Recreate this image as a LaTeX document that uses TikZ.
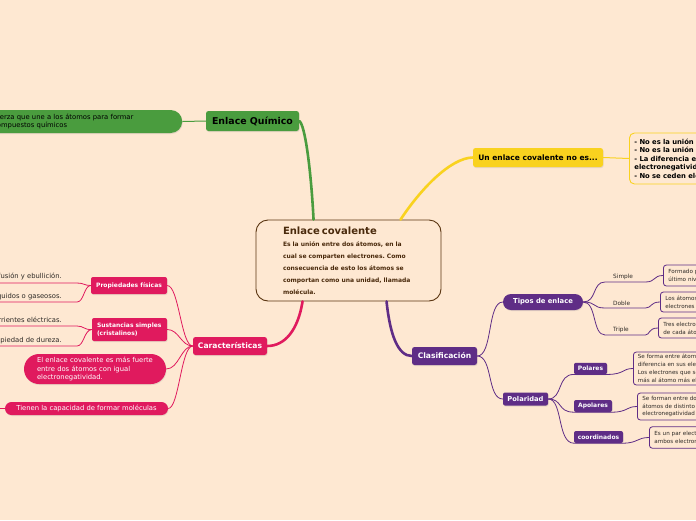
\documentclass[tikz,border=0pt]{standalone}
\usepackage{fontspec}
\setmainfont{DejaVu Sans}
\frenchspacing
\usetikzlibrary{shadows,calc}
\definecolor{bg}{HTML}{FEE8D2}
\definecolor{brn}{HTML}{5A3511}
\definecolor{brntxt}{HTML}{4A2A0C}
\definecolor{cgreen}{HTML}{4A9C3E}
\definecolor{cyellow}{HTML}{F9D21F}
\definecolor{cpink}{HTML}{E01A5E}
\definecolor{cpurple}{HTML}{5F2D86}
\definecolor{dtext}{HTML}{2E2A26}
\begin{document}
\begin{tikzpicture}[x=1pt,y=-1pt,
  shd/.style={drop shadow={opacity=0.18, shadow xshift=0.6pt, shadow yshift=-1pt}},
  main/.style={rectangle, rounded corners=2.5pt, inner sep=0, font=\bfseries\fontsize{7.6}{9}\selectfont, shd},
  sub/.style={rectangle, rounded corners=2pt, inner sep=0, text=white, font=\bfseries\fontsize{6}{7.6}\selectfont, shd},
  leaf/.style={inner sep=0, text=dtext, font=\fontsize{6.8}{8}\selectfont},
  lab/.style={text width=24pt, inner xsep=8pt, inner ysep=2.5pt, align=left, text=dtext, font=\fontsize{5.8}{7}\selectfont},
  pbox/.style={draw=cpurple, line width=0.8pt, fill=bg, rounded corners=3pt, anchor=west, text width=170pt, inner xsep=5pt, inner ysep=0pt, align=left, text=dtext, font=\fontsize{5.6}{8}\selectfont},
  trunk/.style={line width=2.6pt, line cap=round},
  twig/.style={line width=0.8pt}
]
\useasboundingbox (0,0) rectangle (696,520);
\fill[bg] (0,0) rectangle (696,520);

% central
\node[draw=brn, line width=0.9pt, rounded corners=12pt, fill=bg, minimum width=185pt, minimum height=81pt, text width=131pt, inner xsep=27pt, inner ysep=0pt, align=left, text=brntxt, font=\bfseries\fontsize{6}{12}\selectfont] (c) at (348.5,260.5)
{{\fontsize{10}{12}\selectfont Enlace covalente}\\
Es la unión entre dos átomos, en la\\
cual se comparten electrones. Como\\
consecuencia de esto los átomos se\\
comportan como una unidad, llamada\\
molécula.};

% green
\node[main, fill=cgreen, text=black, font=\bfseries\fontsize{9.4}{11}\selectfont, minimum width=93pt, minimum height=20pt] (eq) at (252.5,121) {Enlace Químico};
\node[fill=cgreen, rounded corners=11.5pt, text width=175pt, inner xsep=14pt, inner ysep=0pt, minimum height=23pt, align=left, anchor=west, text=black, font=\fontsize{6.8}{8}\selectfont, shd] (def) at (-21,121.5) {fuerza que une a los átomos para formar\\compuestos químicos};
\draw[cgreen, line width=1pt] (def.east) -- (eq.west);
\draw[cgreen, trunk] (eq.east) .. controls (305,124) and (311,170) .. ($(c.north west)+(58,0)$);

% yellow
\node[main, fill=cyellow, text=black, font=\bfseries\fontsize{7.5}{9}\selectfont, minimum width=130pt, minimum height=19pt] (ny) at (538,157.5) {Un enlace covalente no es...};
\draw[cyellow, trunk] ($(c.north west)+(145,0)$) .. controls (420,190) and (450,158) .. (ny.west);
\node[draw=cyellow, line width=0.9pt, fill=bg, rounded corners=5pt, anchor=west, text width=150pt, inner xsep=5pt, inner ysep=0pt, minimum height=51pt, align=left, text=black, font=\bfseries\fontsize{6.8}{8.5}\selectfont] (yb) at (629,158.5)
{- No es la unión de iones.\\- No es la unión de metales.\\- La diferencia entre su\\electronegatividad no es grande.\\- No se ceden electrones.};
\draw[cyellow, line width=1pt] (ny.east) -- (yb.west);

% pink
\node[main, fill=cpink, text=white, minimum width=74pt, minimum height=18pt] (car) at (230,346) {Características};
\draw[cpink, trunk] ($(c.south west)+(47,0)$) .. controls (298,330) and (285,346) .. (car.east);
\node[sub, fill=cpink, minimum width=76pt, minimum height=17pt] (pf) at (129,285.5) {Propiedades físicas};
\node[sub, fill=cpink, minimum width=75pt, minimum height=23pt, text width=65pt, inner xsep=5pt, align=left] (ss) at (129.5,329.5) {Sustancias simples\\(cristalinos)};
\node[fill=cpink, rounded corners=15pt, text=white, font=\fontsize{6.8}{8.5}\selectfont, text width=116pt, inner xsep=13pt, inner ysep=0pt, minimum height=30pt, align=left, shd] (p1) at (95,369) {El enlace covalente es más fuerte\\entre dos átomos con igual\\electronegatividad.};
\node[fill=cpink, rounded corners=6.5pt, text=white, font=\fontsize{6.8}{8}\selectfont, minimum width=163pt, minimum height=13pt, inner sep=0pt, shd] (p2) at (86.5,408.5) {Tienen la capacidad de formar moléculas};
\draw[cpink, twig] (car.west) .. controls (181,346) and (179,285.5) .. (pf.east);
\draw[cpink, twig] (car.west) .. controls (181,346) and (179,329.5) .. (ss.east);
\draw[cpink, twig] (car.west) .. controls (181,346) and (179,369) .. (p1.east);
\draw[cpink, twig] (car.west) .. controls (181,346) and (179,408.5) .. (p2.east);
\coordinate (pe) at (-5,408.5);
\draw[cpink, twig] (p2.west) -- (pe);

\node[leaf, anchor=base east] (l1) at (62,278) {Tienen bajos puntos de fusión y ebullición.};
\node[leaf, anchor=base east] (l2) at (62,298) {Pueden ser sólidos, líquidos o gaseosos.};
\node[leaf, anchor=base east] (l3) at (62,322) {No conducen las corrientes eléctricas.};
\node[leaf, anchor=base east] (l4) at (62,342.5) {Tienen la propiedad de dureza.};
\coordinate (u1) at (77,283); \coordinate (v1) at (-5,283);
\coordinate (u2) at (77,302); \coordinate (v2) at (-5,302);
\coordinate (u3) at (77,326); \coordinate (v3) at (-5,326);
\coordinate (u4) at (77,346); \coordinate (v4) at (-5,346);
\draw[cpink, twig] (pf.west) .. controls (84,285.5) and (84,283) .. (u1) -- (v1);
\draw[cpink, twig] (pf.west) .. controls (84,285.5) and (84,302) .. (u2) -- (v2);
\draw[cpink, twig] (ss.west) .. controls (84,330) and (84,326) .. (u3) -- (v3);
\draw[cpink, twig] (ss.west) .. controls (84,330) and (84,346) .. (u4) -- (v4);

% purple
\node[main, fill=cpurple, text=white, minimum width=65pt, minimum height=18pt] (cl) at (444.5,356) {Clasificación};
\draw[cpurple, trunk] ($(c.south west)+(131,0)$) .. controls (390,335) and (398,356) .. (cl.west);
\node[fill=cpurple, rounded corners=8pt, text=white, font=\bfseries\fontsize{6.8}{8}\selectfont, minimum width=80pt, minimum height=16pt, inner sep=0pt, shd] (te) at (543,302) {Tipos de enlace};
\node[sub, fill=cpurple, font=\bfseries\fontsize{6.7}{8}\selectfont, minimum width=45pt, minimum height=13pt] (po) at (525.5,399) {Polaridad};
\draw[cpurple, twig] (cl.east) .. controls (493,356) and (487,302) .. (te.west);
\draw[cpurple, twig] (cl.east) .. controls (493,356) and (487,399) .. (po.west);

\node[lab, anchor=south west] (si) at (605,282) {Simple};
\node[lab, anchor=south west] (do) at (605,308) {Doble};
\node[lab, anchor=south west] (tr) at (605,335) {Triple};
\node[pbox, minimum height=21pt] (b1) at (663,275.5) {Formado por un par de electrones\\último nivel de energía};
\node[pbox, minimum height=20pt] (b2) at (660,302) {Los átomos comparten dos pares\\electrones};
\node[pbox, minimum height=20pt] (b3) at (658,328) {Tres electrones son compartidos\\de cada átomo};
\draw[cpurple, twig] (te.east) .. controls (597,302) and (592,282) .. (si.south west) -- (si.south east) .. controls (656,282) and (653,275.5) .. (b1.west);
\draw[cpurple, twig] (te.east) .. controls (597,302) and (592,308) .. (do.south west) -- (do.south east) .. controls (652,308) and (650,302) .. (b2.west);
\draw[cpurple, twig] (te.east) .. controls (597,302) and (592,335) .. (tr.south west) -- (tr.south east) .. controls (650,335) and (648,328) .. (b3.west);

\node[sub, fill=cpurple, minimum width=33pt, minimum height=11.5pt] (pl) at (590.5,368.5) {Polares};
\node[sub, fill=cpurple, minimum width=38pt, minimum height=12pt] (ap) at (593,406) {Apolares};
\node[sub, fill=cpurple, minimum width=49pt, minimum height=12pt] (co) at (598.5,437) {coordinados};
\node[pbox, minimum height=33pt, inner xsep=4.5pt, font=\fontsize{5.6}{7.9}\selectfont] (pb) at (633,368.5) {Se forma entre átomos con\\diferencia en sus electronegatividades.\\Los electrones que se comparten\\más al átomo más electronegativo};
\node[pbox, minimum height=27pt, font=\fontsize{5.6}{7.6}\selectfont] (ab) at (637,406.5) {Se forman entre dos\\átomos de distinto elemento\\electronegatividad igual};
\node[pbox, minimum height=21.5pt] (cb) at (649,437.5) {Es un par electrónico compartido\\ambos electrones del mismo átomo};
\draw[cpurple, twig] (po.east) .. controls (563,399) and (557,374.25) .. (pl.south west) -- (pl.south east) .. controls (625,374.25) and (622,368.5) .. (pb.west);
\draw[cpurple, twig] (po.east) .. controls (563,399) and (557,412) .. (ap.south west) -- (ap.south east) .. controls (628,412) and (626,406.5) .. (ab.west);
\draw[cpurple, twig] (po.east) .. controls (563,399) and (557,443) .. (co.south west) -- (co.south east) .. controls (638,443) and (637,437.5) .. (cb.west);
\end{tikzpicture}
\end{document}
